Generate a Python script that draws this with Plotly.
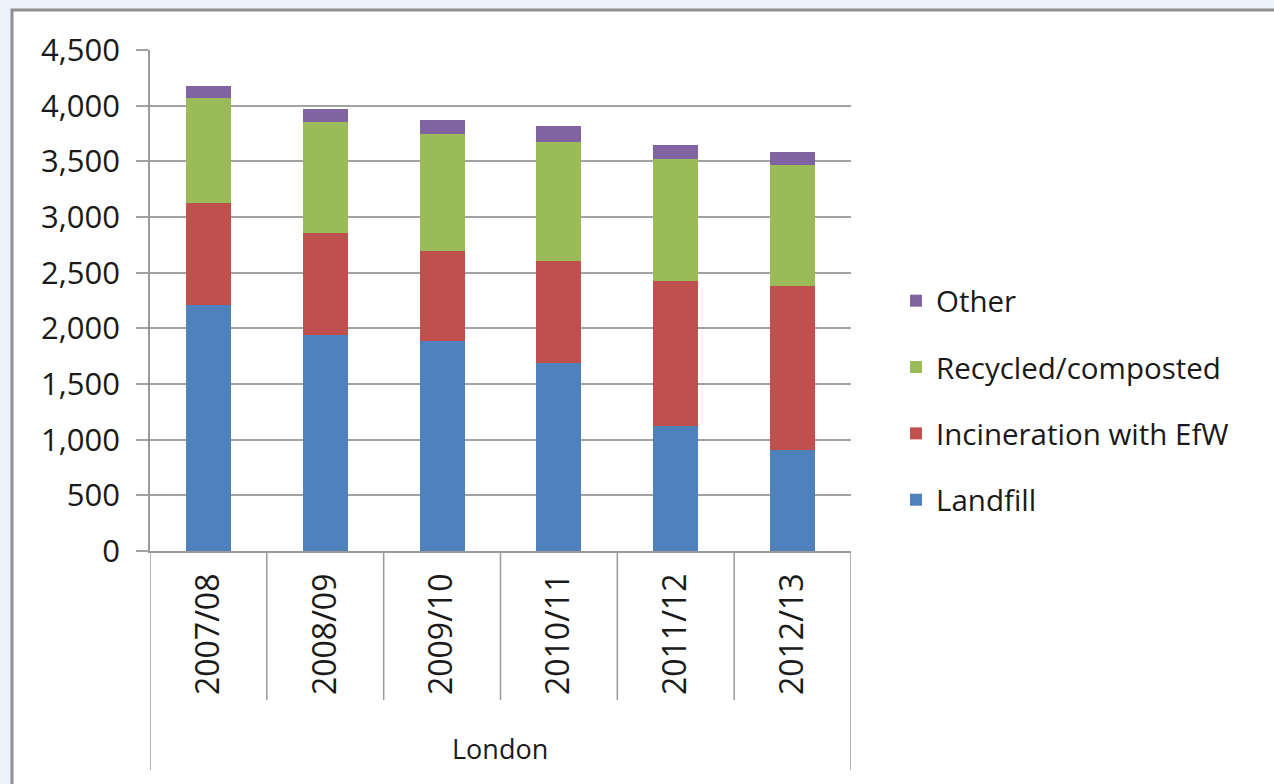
import plotly.graph_objects as go

years = ["2007/08", "2008/09", "2009/10", "2010/11", "2011/12", "2012/13"]
landfill = [2210, 1940, 1885, 1690, 1125, 910]
incineration = [920, 920, 810, 915, 1300, 1470]
recycled = [940, 995, 1055, 1065, 1100, 1090]
other = [105, 115, 120, 145, 125, 110]
y_ticks = [0, 500, 1000, 1500, 2000, 2500, 3000, 3500, 4000, 4500]
group_label = "London"

series = [
    ("Landfill", landfill, "#4f81bd", 4),
    ("Incineration with EfW", incineration, "#c0504d", 3),
    ("Recycled/composted", recycled, "#9bbb59", 2),
    ("Other", other, "#8064a2", 1),
]

FONT = "'Open Sans', Lato, sans-serif"

fig = go.Figure()
for name, vals, col, rank in series:
    fig.add_trace(go.Bar(x=years, y=vals, name=name, marker=dict(color=col, line=dict(width=0)),
                         legendgroup=name, legendrank=rank))

W, H = 1274, 784
L, R, T, B = 150, 851, 50, 551
pw, ph = R - L, B - T

def px(xp):
    return (xp - L) / pw

def py(yp):
    return (B - yp) / ph

shapes = []
# outer frame (white panel with gray border)
shapes.append(dict(type="rect", xref="paper", yref="paper", x0=px(12), x1=px(1300), y0=py(810), y1=py(10),
                   line=dict(color="#8f8f8f", width=3), fillcolor="white", layer="below"))
# category dividers
n = len(years)
for i in range(n + 1):
    outer = i == 0 or i == n
    shapes.append(dict(type="line", xref="x", yref="paper", x0=i - 0.5, x1=i - 0.5,
                       y0=0, y1=py(770) if outer else py(700),
                       line=dict(color="#9a9a9a", width=1.5)))

fig.update_layout(
    width=W, height=H,
    margin=dict(l=L, r=W - R, t=T, b=H - B, pad=0),
    paper_bgcolor="#edf2f9",
    plot_bgcolor="white",
    barmode="stack",
    bargap=0.615,
    font=dict(family=FONT, color="#1a1a1a"),
    showlegend=True,
    legend=dict(x=px(896), y=py(275), xanchor="left", yanchor="top",
                traceorder="grouped", tracegroupgap=25,
                font=dict(size=29.5, family=FONT, color="#1a1a1a"),
                bgcolor="rgba(0,0,0,0)"),
    shapes=shapes,
    annotations=[dict(text=group_label, xref="paper", yref="paper", x=px(500), y=py(748),
                      showarrow=False, xanchor="center", yanchor="middle",
                      font=dict(size=27, family=FONT, color="#1a1a1a"))],
    xaxis=dict(type="category", tickangle=-90, tickfont=dict(size=32, family=FONT, color="#1a1a1a"),
               showgrid=False, showline=True, linecolor="#9a9a9a", linewidth=1.5,
               ticks="", ticklabelstandoff=8, range=[-0.5, n - 0.5]),
    yaxis=dict(range=[0, 4500], tickvals=y_ticks, tickformat=",d",
               tickfont=dict(size=31, family=FONT, color="#1a1a1a"),
               showgrid=True, gridcolor="#a3a3a3", gridwidth=1.8,
               showline=True, linecolor="#9a9a9a", linewidth=1.8,
               ticks="outside", ticklen=12, tickcolor="#a3a3a3", tickwidth=1.8,
               ticklabelstandoff=10, zeroline=False),
)

fig.write_html("out.html")
